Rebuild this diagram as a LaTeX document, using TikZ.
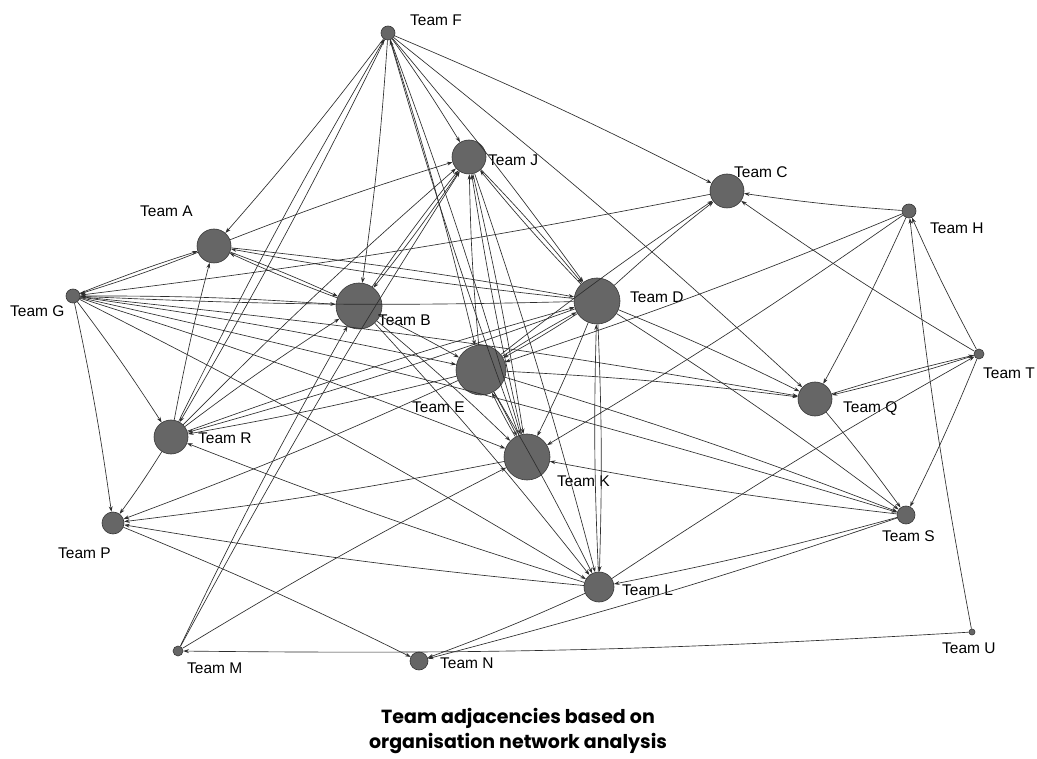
\documentclass[tikz,border=0pt]{standalone}
\usepackage{fontspec}
\setmainfont{Liberation Sans}
\newfontfamily\titlefont{Poppins}
\usetikzlibrary{arrows.meta}
\definecolor{nodegray}{RGB}{102,102,102}
\definecolor{nodeborder}{RGB}{55,55,55}
\definecolor{edgegray}{RGB}{45,45,45}
\begin{document}
\begin{tikzpicture}[x=1pt,y=-1pt,
  team/.style={circle,fill=nodegray,draw=nodeborder,line width=0.6pt,inner sep=0pt,minimum size=#1},
  lbl/.style={anchor=west,font=\fontsize{15.5}{17}\selectfont,text=black,inner sep=0pt},
  link/.style={draw=edgegray,line width=0.65pt,-{Stealth[length=5.5pt,width=3.8pt]},bend left=2}]
\useasboundingbox[fill=white] (0,0) rectangle (1037,759);
% nodes
\node[team=14pt] (F) at (388,33) {};
\node[team=34pt] (J) at (469,157) {};
\node[team=34pt] (C) at (727,191) {};
\node[team=14pt] (H) at (909,211) {};
\node[team=34pt] (A) at (214,246) {};
\node[team=14pt] (G) at (73,296) {};
\node[team=46pt] (B) at (359,306) {};
\node[team=46pt] (D) at (597,301) {};
\node[team=10pt] (T) at (979,354) {};
\node[team=50pt] (E) at (481,370) {};
\node[team=34pt] (Q) at (815,399) {};
\node[team=34pt] (R) at (171,437) {};
\node[team=46pt] (K) at (527,457) {};
\node[team=22pt] (P) at (113,523) {};
\node[team=18pt] (S) at (906,515) {};
\node[team=30pt] (L) at (599,587) {};
\node[team=6pt] (U) at (972,632) {};
\node[team=10pt] (M) at (178,651) {};
\node[team=18pt] (N) at (419,661) {};
% labels
\node[lbl] (lF) at (410,20) {Team F};
\node[lbl] (lJ) at (488,160) {Team J};
\node[lbl] (lC) at (734,172) {Team C};
\node[lbl] (lH) at (930,228) {Team H};
\node[lbl] (lA) at (140,211) {Team A};
\node[lbl] (lG) at (10,311) {Team G};
\node[lbl] (lB) at (378,320) {Team B};
\node[lbl] (lD) at (630,297) {Team D};
\node[lbl] (lT) at (983,373) {Team T};
\node[lbl] (lE) at (412,407) {Team E};
\node[lbl] (lQ) at (843,409) {Team Q};
\node[lbl] (lR) at (198,438) {Team R};
\node[lbl] (lK) at (557,481) {Team K};
\node[lbl] (lP) at (58,553) {Team P};
\node[lbl] (lS) at (882,536) {Team S};
\node[lbl] (lL) at (622,590) {Team L};
\node[lbl] (lU) at (942,648) {Team U};
\node[lbl] (lM) at (187,668) {Team M};
\node[lbl] (lN) at (440,663) {Team N};
% connectors
\foreach \s/\t in {F/A, F/R, R/F, F/B, F/J, F/E, F/K, K/F, F/D, F/C, F/Q,
  A/J, A/G, G/A, A/B, B/A, A/D, D/A, R/A,
  G/B, G/R, G/P, G/E, G/K, G/L, D/G, C/G, G/Q, G/S,
  B/J, J/B, B/E, B/K, B/L, R/B, M/B,
  J/D, D/J, J/K, K/J, J/L, R/J, M/J, E/J,
  D/C, E/C, E/D, D/E, E/K, K/E, E/Q, E/R, E/L, E/S, E/P, H/E,
  D/K, D/L, L/D, D/Q, D/S, D/R, R/D,
  K/P, S/K, H/K, M/K, L/R,
  L/P, P/N, L/N, S/N, S/L, L/T,
  H/C, H/Q, T/H, U/H, T/Q, Q/T, T/C, T/S, Q/S, U/M, R/P}
  \draw[link] (\s) to (\t);
% title
\node[font=\titlefont\bfseries\fontsize{19}{25}\selectfont,align=center] (title) at (518,731) {Team adjacencies based on\\organisation network analysis};
\end{tikzpicture}
\end{document}
